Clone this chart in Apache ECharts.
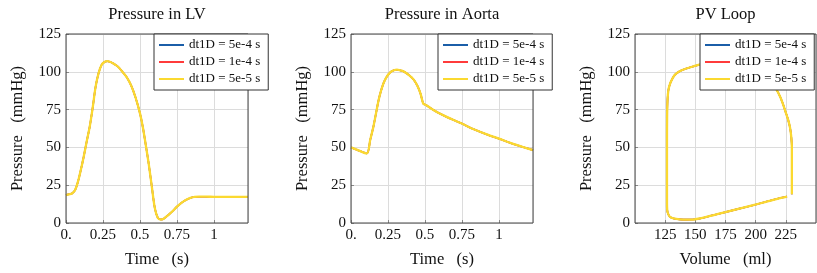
<!DOCTYPE html>
<html>
<head>
<meta charset="utf-8">
<script src="https://cdn.jsdelivr.net/npm/echarts@6/dist/echarts.min.js"></script>
<style>
html,body{margin:0;padding:0;background:#fff;}
#chart{width:817px;height:273px;}
</style>
</head>
<body>
<div id="chart"></div>
<script>
// ---- data ----
const seriesNames = ['dt1D = 5e-4 s', 'dt1D = 1e-4 s', 'dt1D = 5e-5 s'];
const panelTitles = ['Pressure in LV', 'Pressure in Aorta', 'PV Loop'];

const lvTime = [0, 0.02, 0.04, 0.06, 0.08, 0.1, 0.12, 0.14, 0.16, 0.18, 0.2, 0.22, 0.24, 0.26, 0.28, 0.3, 0.32, 0.35, 0.38, 0.41, 0.44, 0.47, 0.5, 0.52, 0.54, 0.56, 0.58, 0.6, 0.62, 0.64, 0.66, 0.68, 0.7, 0.72, 0.75, 0.78, 0.81, 0.84, 0.87, 0.9, 0.95, 1.0, 1.1, 1.23];
const lvPressure = [18.5, 19, 19.5, 21.5, 27, 35, 44, 54, 63.5, 76, 90, 99, 104.5, 106.5, 107, 106.5, 105.5, 103.5, 100.2, 96.5, 91, 83, 72.5, 63, 51, 38.5, 24, 10, 3.5, 2.3, 2.8, 4.4, 6, 7.8, 10.8, 13.3, 15.2, 16.6, 17.3, 17.4, 17.4, 17.3, 17.3, 17.3];

const aoTime = [0, 0.05, 0.107, 0.13, 0.152, 0.17, 0.186, 0.2, 0.22, 0.24, 0.265, 0.29, 0.311, 0.33, 0.356, 0.39, 0.424, 0.45, 0.47, 0.488, 0.5, 0.515, 0.55, 0.583, 0.65, 0.741, 0.83, 0.923, 1.0, 1.082, 1.16, 1.23];
const aoPressure = [50, 48, 46, 55, 64, 73, 81, 86.5, 92.5, 96.5, 99.6, 101, 101.4, 101, 100.2, 98, 94.8, 90.5, 85.5, 79, 78.3, 77.5, 75.2, 73.2, 70, 66.1, 62, 58.4, 55.8, 52.8, 50.3, 48.2];

const pvVolume = [230, 230, 230, 230, 230, 229.5, 228.5, 227, 225, 222.5, 220, 217, 212, 205, 195, 185, 175, 165, 155, 148, 142, 137, 133, 131, 129, 127.7, 127, 126.6, 126.5, 126.5, 126.5, 126.7, 127.5, 129, 132, 137, 143, 148, 155, 164.5, 175, 186.5, 198, 208.5, 218, 226];
const pvPressure = [19, 25, 35, 45, 50, 57, 63, 68, 73, 79, 84, 88.5, 94, 99, 103.5, 106, 107, 106.3, 105, 103.5, 102, 100.4, 98, 95.5, 92, 88, 82, 70, 50, 30, 15, 8.5, 6, 4, 3, 2.4, 2.2, 2.3, 3.2, 5.1, 7.2, 9.5, 11.8, 14, 16, 17.5];

const yTicks = [0, 25, 50, 75, 100, 125];

// ---- styling / layout ----
const colors = ['#1b5ea8', '#ff3b3b', '#fbd930'];
const widths = [1.6, 1.6, 2.3];
const FONT = 'Liberation Serif';
const grids = [
  {left: 66, top: 34, width: 182, height: 189},
  {left: 351, top: 34, width: 182, height: 189},
  {left: 635, top: 34, width: 181, height: 189}
];
const legendLeft = [154, 438, 700];

function zip(a, b) { return a.map((v, i) => [v, b[i]]); }
const panelData = [zip(lvTime, lvPressure), zip(aoTime, aoPressure), zip(pvVolume, pvPressure)];

const axisCommon = {
  axisLine: {show: false},
  axisTick: {show: true, inside: true, length: 3, lineStyle: {color: '#888'}},
  splitLine: {show: true, lineStyle: {color: '#dcdcdc', width: 1}},
  axisLabel: {color: '#111', fontFamily: FONT, fontSize: 15},
  nameTextStyle: {color: '#111', fontFamily: FONT, fontSize: 16.5},
  nameLocation: 'middle'
};

const xAxes = [0, 1, 2].map(i => {
  const isPV = i === 2;
  return Object.assign({}, axisCommon, {
    type: 'value', gridIndex: i,
    min: isPV ? 100 : 0, max: isPV ? 250 : 1.23, interval: 0.25 * (isPV ? 100 : 1),
    name: isPV ? 'Volume   (ml)' : 'Time   (s)', nameGap: 28,
    axisLabel: Object.assign({}, axisCommon.axisLabel, {
      margin: 5, showMaxLabel: false, showMinLabel: !isPV,
      formatter: v => (isPV ? ((v === 100 || v === 250) ? '' : String(v)) : (v === 0 ? '0.' : String(v)))
    })
  });
});
const yAxes = [0, 1, 2].map(i => Object.assign({}, axisCommon, {
  type: 'value', gridIndex: i, min: yTicks[0], max: yTicks[yTicks.length - 1], interval: 25,
  name: 'Pressure   (mmHg)', nameGap: 40,
  axisLabel: Object.assign({}, axisCommon.axisLabel, {margin: 5})
}));

const series = [];
[0, 1, 2].forEach(g => {
  seriesNames.forEach((n, j) => {
    series.push({
      type: 'line', name: n, xAxisIndex: g, yAxisIndex: g,
      data: panelData[g], showSymbol: false, symbol: 'none',
      lineStyle: {color: colors[j], width: widths[j]}, itemStyle: {color: colors[j]},
      smooth: 0.3, z: 2 + j, silent: true
    });
  });
});

const legends = [0, 1, 2].map(g => ({
  data: seriesNames, orient: 'vertical', left: legendLeft[g], top: 34,
  icon: 'rect', itemWidth: 25, itemHeight: 2, itemGap: 3, itemTextGap: 4,
  padding: [4, 8, 4, 5],
  backgroundColor: '#fff', borderColor: '#333', borderWidth: 1,
  textStyle: {fontFamily: FONT, fontSize: 13, color: '#111', lineHeight: 14},
  selectedMode: false, z: 10
}));

const titles = grids.map((gr, i) => ({
  type: 'text', x: gr.left + gr.width / 2, y: 6,
  style: {text: panelTitles[i], font: '16.5px "' + FONT + '"', fill: '#111', textAlign: 'center'}
}));

const chart = echarts.init(document.getElementById('chart'), null, {renderer: 'canvas'});
chart.setOption({
  animation: false,
  backgroundColor: '#fff',
  grid: grids.map(g => Object.assign({show: true, borderColor: '#444', borderWidth: 1, backgroundColor: 'transparent', z: 5}, g)),
  xAxis: xAxes,
  yAxis: yAxes,
  legend: legends,
  graphic: titles,
  series: series
});
</script>
</body>
</html>
